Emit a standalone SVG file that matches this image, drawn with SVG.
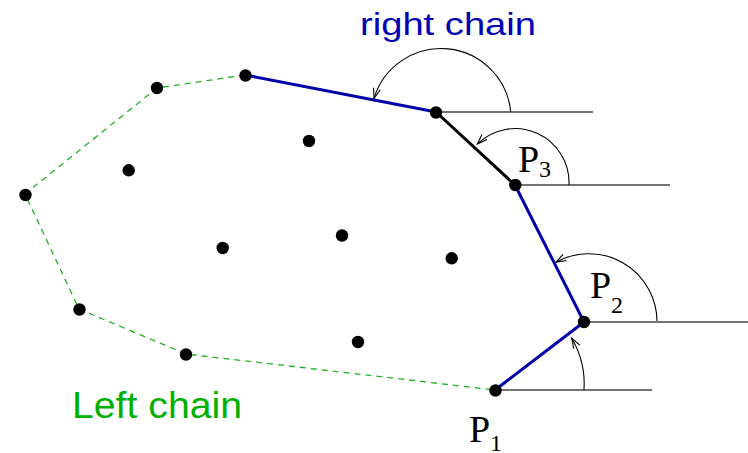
<svg xmlns="http://www.w3.org/2000/svg" width="748" height="453" viewBox="0 0 748 453">
<style>
.dot{fill:#000}
.hz{stroke:#444;stroke-width:1.4;fill:none}
.blue{stroke:#0000a8;stroke-width:3;fill:none;stroke-linecap:round}
.blk{stroke:#000;stroke-width:3;fill:none;stroke-linecap:round}
.dash{stroke:#22b022;stroke-width:1.3;fill:none;stroke-dasharray:6,5}
.arc{stroke:#000;stroke-width:1.1;fill:none;marker-end:url(#ah)}
.lbl{font-family:"Liberation Sans",Arial,sans-serif}
.pl{font-family:"Liberation Serif","Times New Roman",serif;fill:#000}
</style>
<defs>
<marker id="ah" markerUnits="userSpaceOnUse" markerWidth="12" markerHeight="9" refX="11" refY="4" orient="auto">
<path d="M1,0.5 L11,4 L1,7.5" fill="none" stroke="#000" stroke-width="1.1"/>
</marker>
</defs>
<g id="connectors">
<path class="dash" d="M245,75 L157,88 L25,194 L79,309 L186,354 L495,390"/>
<line class="hz" x1="436" y1="112" x2="593" y2="112"/>
<line class="hz" x1="515" y1="185" x2="670" y2="185"/>
<line class="hz" x1="584" y1="322" x2="748" y2="322"/>
<line class="hz" x1="495" y1="390" x2="652" y2="390"/>
<path class="blue" d="M245,75 L436,112"/>
<path class="blk" d="M436,112 L515,185"/>
<path class="blue" d="M515,185 L584,322 L495,390"/>
<path class="arc" d="M510.7,112 A70,70 0 0 0 374,98.3"/>
<path class="arc" d="M569,185 A54,54 0 0 0 477.3,144"/>
<path class="arc" d="M657,321 A68,68 0 0 0 556,262.3"/>
<path class="arc" d="M584,390 A90,90 0 0 0 571.7,338.3"/>
</g>
<g id="hull-points">
<circle class="dot" cx="245.5" cy="75.5" r="6.2"/>
<circle class="dot" cx="157" cy="88" r="6.2"/>
<circle class="dot" cx="25.5" cy="195" r="6.2"/>
<circle class="dot" cx="79.5" cy="309.5" r="6.2"/>
<circle class="dot" cx="186" cy="354.5" r="6.2"/>
<circle class="dot" cx="436" cy="112.5" r="6.2"/>
</g>
<g id="P1"><circle class="dot" cx="495.5" cy="390.5" r="6.2"/>
<text class="pl" x="469" y="442" font-size="38">P<tspan x="490" y="451" font-size="24">1</tspan></text></g>
<g id="P2"><circle class="dot" cx="584" cy="322" r="6.2"/>
<text class="pl" x="590" y="298" font-size="38">P<tspan x="611" y="313" font-size="24">2</tspan></text></g>
<g id="P3"><circle class="dot" cx="515.3" cy="185" r="6.2"/>
<text class="pl" x="518" y="172" font-size="38">P<tspan x="539" y="177" font-size="24">3</tspan></text></g>
<g id="interior-points">
<circle class="dot" cx="128.7" cy="170.3" r="6.2"/>
<circle class="dot" cx="309" cy="141" r="6.2"/>
<circle class="dot" cx="222.7" cy="248" r="6.2"/>
<circle class="dot" cx="342" cy="235.5" r="6.2"/>
<circle class="dot" cx="451.7" cy="258.3" r="6.2"/>
<circle class="dot" cx="358" cy="342" r="6.2"/>
</g>
<g id="labels">
<text class="lbl" x="360" y="35" font-size="32" fill="#0000b4" textLength="176" lengthAdjust="spacingAndGlyphs">right chain</text>
<text class="lbl" x="72" y="418" font-size="37" fill="#00b000" textLength="170" lengthAdjust="spacingAndGlyphs">Left chain</text>
</g>
</svg>
